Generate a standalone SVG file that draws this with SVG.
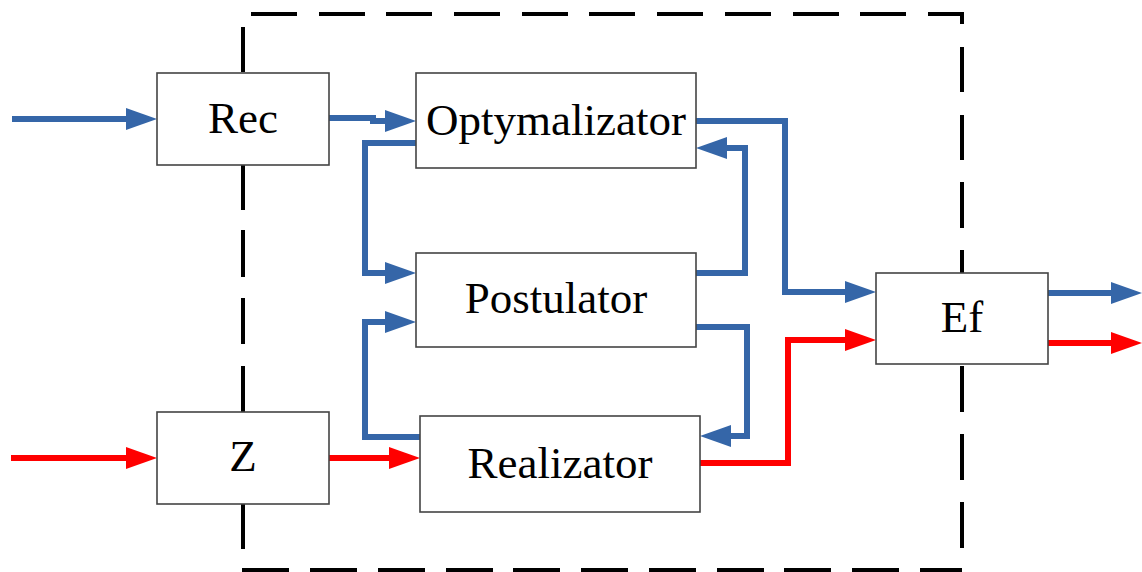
<svg xmlns="http://www.w3.org/2000/svg" width="1142" height="572" viewBox="0 0 1142 572">
  <style>
    .box { fill: #ffffff; stroke: #444444; stroke-width: 1.6; }
    .lbl { font-family: 'Liberation Serif', 'Times New Roman', 'DejaVu Serif', serif; font-size: 45px; fill: #000000; text-anchor: middle; }
    .bound { fill: none; stroke: #000000; stroke-width: 4; }
    .flow { fill: none; stroke-width: 6; stroke-linejoin: miter; }
    .blue { stroke: #3566a8; marker-end: url(#headBlue); }
    .red { stroke: #ff0000; marker-end: url(#headRed); }
  </style>
  <defs>
    <marker id="headBlue" markerUnits="userSpaceOnUse" markerWidth="31" markerHeight="22" refX="0" refY="11" orient="auto">
      <path d="M0,0 L31,11 L0,22 z" fill="#3566a8"/>
    </marker>
    <marker id="headRed" markerUnits="userSpaceOnUse" markerWidth="31" markerHeight="22" refX="0" refY="11" orient="auto">
      <path d="M0,0 L31,11 L0,22 z" fill="#ff0000"/>
    </marker>
  </defs>

  <rect width="1142" height="572" fill="#ffffff"/>

  <!-- system boundary (long-dash frame) -->
  <g id="boundary">
    <path class="bound" d="M251,14 H297 M319,14 H365 M386,14 H432 M454,14 H500 M522,14 H568 M589,14 H635 M657,14 H703 M725,14 H771 M793,14 H839 M860,14 H906 M928,14 H962 V24
                           M962,47 V92 M962,115 V160 M962,182 V228 M962,250 V273
                           M962,366 V412 M962,434 V480 M962,502 V548
                           M242,570 H289 M310,570 H357 M378,570 H425 M446,570 H493 M513,570 H560 M581,570 H628 M649,570 H696 M717,570 H764 M784,570 H831 M852,570 H899 M920,570 H962
                           M243,27 V72 M243,165 V210 M243,230 V277 M243,298 V344 M243,366 V412 M243,504 V549"/>
  </g>

  <!-- connectors -->
  <g id="connectors">
    <path class="flow blue" d="M12,119 H126"/>
    <path class="flow blue" d="M329,118 H373 V121 H385"/>
    <path class="flow blue" d="M416,143 H365 V273 H385"/>
    <path class="flow blue" d="M420,437 H365 V322 H385"/>
    <path class="flow blue" d="M696,273 H745 V148 H727"/>
    <path class="flow blue" d="M696,121 H785 V292 H845"/>
    <path class="flow blue" d="M696,327 H747 V436 H731"/>
    <path class="flow blue" d="M1048,293 H1111"/>
    <path class="flow red" d="M11,458 H126"/>
    <path class="flow red" d="M329,458 H389"/>
    <path class="flow red" d="M700,463 H788 V340 H845"/>
    <path class="flow red" d="M1048,343 H1111"/>
  </g>

  <g id="rec">
    <rect class="box" x="157" y="73" width="172" height="92"/>
    <text class="lbl" x="243" y="133" font-family="Liberation Serif, serif">Rec</text>
  </g>
  <g id="z">
    <rect class="box" x="157" y="412" width="172" height="92"/>
    <text class="lbl" x="243" y="471" font-family="Liberation Serif, serif">Z</text>
  </g>
  <g id="optymalizator">
    <rect class="box" x="416" y="73" width="280" height="95"/>
    <text class="lbl" x="556" y="135" font-family="Liberation Serif, serif">Optymalizator</text>
  </g>
  <g id="postulator">
    <rect class="box" x="416" y="253" width="280" height="94"/>
    <text class="lbl" x="556" y="313" font-family="Liberation Serif, serif">Postulator</text>
  </g>
  <g id="realizator">
    <rect class="box" x="420" y="416" width="280" height="96"/>
    <text class="lbl" x="560" y="478" font-family="Liberation Serif, serif">Realizator</text>
  </g>
  <g id="ef">
    <rect class="box" x="876" y="273" width="172" height="91"/>
    <text class="lbl" x="962" y="332" font-family="Liberation Serif, serif">Ef</text>
  </g>
</svg>
